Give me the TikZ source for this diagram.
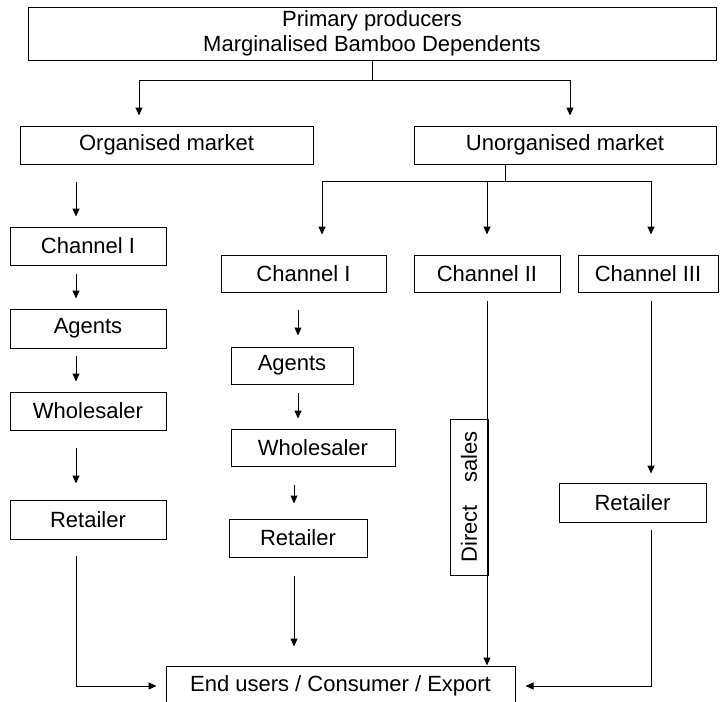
\documentclass[tikz,border=0pt]{standalone}
\usepackage{fontspec}
\setmainfont{Liberation Sans}
\usetikzlibrary{arrows.meta}

\tikzset{
  box/.style={draw, line width=1pt, inner sep=0pt, align=center},
  flow/.style={-{Triangle[length=8pt,width=7pt]}, line width=1pt},
  link/.style={line width=1pt},
}

\begin{document}
\begin{tikzpicture}[x=1pt, y=-1pt, font=\fontsize{22}{25}\selectfont]
  % canvas, the end box runs off the bottom edge
  \fill[white] (0,0) rectangle (724,702);
  \useasboundingbox (0,0) rectangle (724,702);
  \clip (0,0) rectangle (724,702);

  % producers and the two markets
  \node[box, minimum width=688pt, minimum height=53pt] (prod) at (372,33.5)
    {Primary producers\\Marginalised Bamboo Dependents};
  \node[box, minimum width=293pt, minimum height=38pt] (org)   at (166.5,145) {Organised market};
  \node[box, minimum width=302pt, minimum height=38pt] (unorg) at (565,145)   {Unorganised market};

  % organised market chain
  \node[box, minimum width=156pt, minimum height=38pt] (chL) at (88,246)   {Channel I};
  \node[box, minimum width=156pt, minimum height=39pt] (agL) at (88,328.5) {Agents};
  \node[box, minimum width=156pt, minimum height=38pt] (whL) at (88,411)   {Wholesaler};
  \node[box, minimum width=156pt, minimum height=39pt] (rtL) at (88,519.5) {Retailer};

  % unorganised market channels
  \node[box, minimum width=165pt, minimum height=37pt] (chM)   at (303.5,273.5) {Channel I};
  \node[box, minimum width=146pt, minimum height=37pt] (chII)  at (487,273.5)   {Channel II};
  \node[box, minimum width=140pt, minimum height=37pt] (chIII) at (648,273.5)   {Channel III};
  \node[box, minimum width=122pt, minimum height=37pt] (agM) at (292,365.5) {Agents};
  \node[box, minimum width=164pt, minimum height=37pt] (whM) at (313,447.5) {Wholesaler};
  \node[box, minimum width=138pt, minimum height=38pt] (rtM) at (298,538)   {Retailer};
  \node[box, minimum width=147pt, minimum height=39pt] (rtR) at (632.5,502.5) {Retailer};
  \node[box, rotate=90, minimum width=156pt, minimum height=38pt] (ds) at (469,497)
    {Direct\quad sales};

  % end of all chains
  \node[box, minimum width=349pt, minimum height=40pt] (endb) at (340.5,686)
    {End users / Consumer / Export};

  % arrow columns
  \coordinate (xl) at (76,0);
  \coordinate (xm) at (298,0);
  \coordinate (xn) at (294,0);
  \coordinate (xr) at (651,0);

  % split below the producers
  \draw[link] (prod.south) -- ++(0,20) coordinate (split1);
  \draw[flow, shorten >=10] (split1) -| ([xshift=-27.5pt]org.north);
  \draw[flow, shorten >=10] (split1) -| ([xshift=5pt]unorg.north);

  % split below the unorganised market
  \draw[link] ([xshift=-60pt]unorg.south) -- ++(0,17) coordinate (split2);
  \draw[flow, shorten >=20] (split2) -| ([xshift=18.5pt]chM.north);
  \draw[flow, shorten >=20] (split2) -| (chII.north);
  \draw[flow, shorten >=20] (split2) -| ([xshift=3pt]chIII.north);

  % left chain
  \foreach \a/\b/\s/\e in {org/chL/17/10, chL/agL/8/10, agL/whL/7/10, whL/rtL/17/16}
    \draw[flow, shorten <=\s, shorten >=\e] (\a.south -| xl) -- (\b.north -| xl);
  \draw[flow, shorten <=16, shorten >=9] (rtL.south -| xl) |- (endb.west);

  % middle chain
  \foreach \a/\b/\c/\s/\e in {chM/agM/xm/17/11, agM/whM/xm/8/10, whM/rtM/xn/18/15, rtM/endb/xn/18/19}
    \draw[flow, shorten <=\s, shorten >=\e] (\a.south -| \c) -- (\b.north -| \c);

  % direct sales
  \draw[flow, shorten <=8] (chII.south) -- (chII.south |- endb.north);

  % right chain
  \draw[flow, shorten <=8, shorten >=9] (chIII.south -| xr) -- (rtR.north -| xr);
  \draw[flow, shorten <=7, shorten >=10] (rtR.south -| xr) |- (endb.east);
\end{tikzpicture}
\end{document}
